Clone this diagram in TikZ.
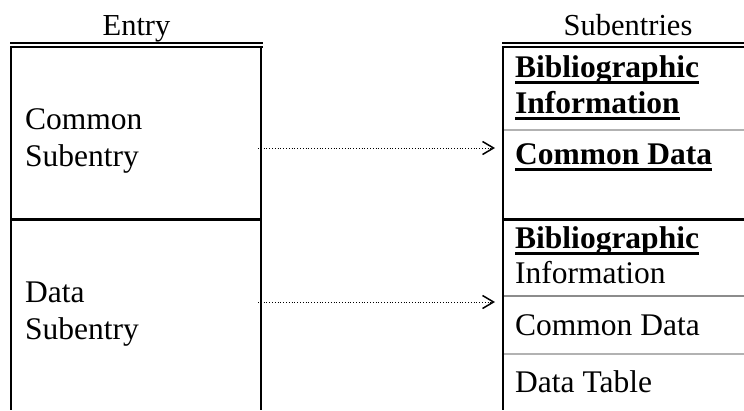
\documentclass[tikz,border=0pt]{standalone}
\usepackage{fontspec}
\setmainfont{Liberation Serif}
\usetikzlibrary{arrows.meta}

\newcommand{\wul}[1]{\setbox0=\hbox{#1}\rlap{\rule[-6.5pt]{\wd0}{3pt}}\box0}

\begin{document}
\begin{tikzpicture}[x=1pt,y=-1pt,>={Straight Barb[length=11pt,width=13pt,line width=1.5pt]},
  cell/.style={anchor=base west,inner sep=0pt,font=\fontsize{31.5}{37}\selectfont},
  head/.style={anchor=base,inner sep=0pt,font=\fontsize{30.5}{36}\selectfont},
  frame/.style={line width=2pt},
  divider/.style={line width=3pt},
  sep/.style={line width=1.5pt,black!30},
  link/.style={->,line width=1pt,dash pattern=on 1pt off 1.8pt}]

  \useasboundingbox (0,0) rectangle (744,410);

  % left table
  \draw[line width=1.6pt] (10,43) -- (263,43) (10,47) -- (263,47);
  \draw[frame] (11,47) -- (11,410) (261,47) -- (261,410);
  \draw[divider] (11,219) -- (261,219);

  % right table
  \draw[line width=1.6pt] (502,43) -- (744,43) (502,47) -- (744,47);
  \draw[frame] (503,47) -- (503,410);
  \draw[divider] (503,219) -- (744,219);
  \draw[sep] (504,130) -- (744,130);
  \draw[sep,black!45,line width=2pt] (504,296) -- (744,296);
  \draw[sep] (504,354) -- (744,354);

  \node[head] (entry) at (136.5,35) {Entry};
  \node[head] (subs) at (628,35) {Subentries};

  \node[cell] (cs1) at (25,129) {Common};
  \node[cell] (cs2) at (25,166) {Subentry};
  \node[cell] (ds1) at (25,302) {Data};
  \node[cell] (ds2) at (25,339) {Subentry};

  \node[cell] (bi1) at (515,77) {\wul{\textbf{Bibliographic}}};
  \node[cell] (in1) at (515,113) {\wul{\textbf{Information}}};
  \node[cell] (cd1) at (515,164) {\wul{\textbf{Common Data}}};
  \node[cell] (bi2) at (515,248) {\wul{\textbf{Bibliographic}}};
  \node[cell] (in2) at (515,283) {Information};
  \node[cell] (cd2) at (515,335) {Common Data};
  \node[cell] (dt) at (515,392) {Data Table};

  \coordinate (cs) at (258,148);
  \coordinate (cd) at (495,148);
  \coordinate (ds) at (258,302);
  \coordinate (dd) at (495,302);
  \draw[link] (cs) -- (cd);
  \draw[link] (ds) -- (dd);
\end{tikzpicture}
\end{document}
